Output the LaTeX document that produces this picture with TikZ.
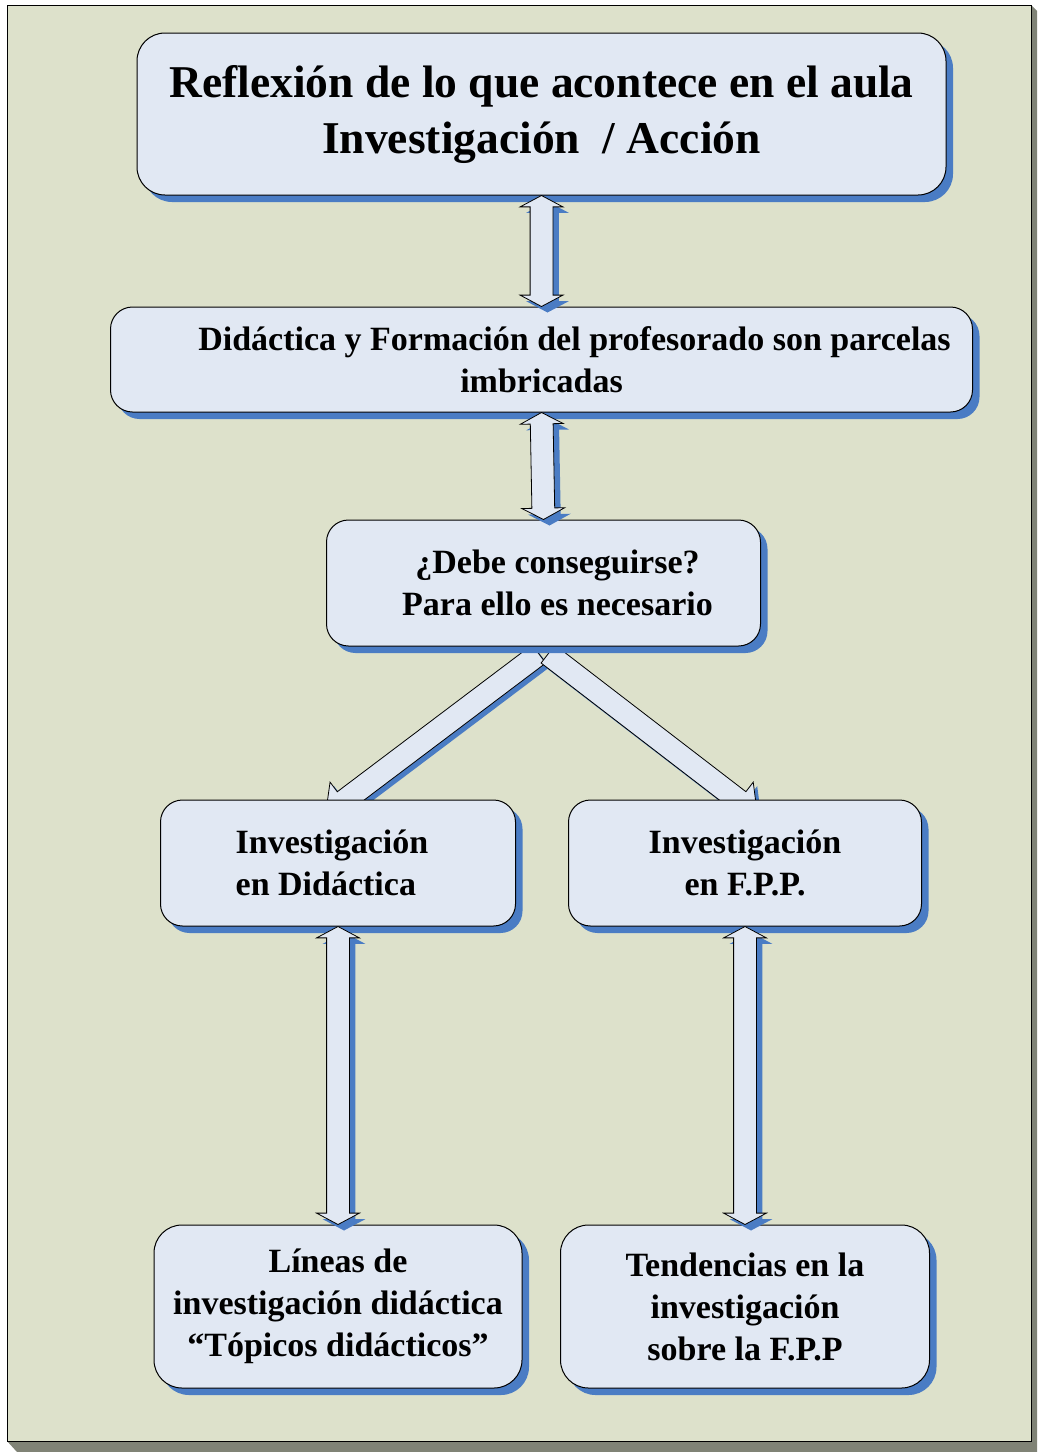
\documentclass[tikz,border=0pt]{standalone}
\usepackage{fontspec}
\setmainfont{Liberation Serif}
\usetikzlibrary{positioning, calc, shapes.arrows, shadows}

\definecolor{pagebg}{RGB}{221,225,203}
\definecolor{boxfill}{RGB}{225,232,243}
\definecolor{shadowblue}{RGB}{74,124,196}
\definecolor{pagegray}{RGB}{128,131,118}

\pgfdeclarelayer{page}
\pgfdeclarelayer{under}
\pgfsetlayers{page,under,main}

% block arrow node stretched between two points
\newcommand{\blockarrow}[3]{%
  \path let \p1=($(#3)-(#2)$), \n1={veclen(\x1,\y1)}, \n2={atan2(\y1,\x1)} in
    ($(#2)!0.5!(#3)$) node[#1, minimum height=\n1, rotate=\n2] {};}

\begin{document}
\begin{tikzpicture}[x=1pt,y=-1pt,node distance=100pt,on grid,
  blueshadow/.style={drop shadow={shadow xshift=7pt, shadow yshift=-7pt, fill=shadowblue, opacity=1}},
  box/.style={draw=black, line width=1pt, fill=boxfill, rounded corners=22pt, inner sep=0pt,
    align=center, font=\bfseries\fontsize{34}{42}\selectfont, blueshadow},
  dblarrow/.style={double arrow, draw=black, line width=0.8pt, fill=boxfill, inner xsep=0pt, inner ysep=11pt,
    minimum width=42pt, double arrow head extend=10pt, double arrow tip angle=124,
    drop shadow={shadow xshift=6pt, shadow yshift=-6pt, fill=shadowblue, opacity=1}},
  onearrow/.style={single arrow, draw=black, line width=0.8pt, fill=boxfill, inner xsep=0pt, inner ysep=11pt,
    minimum width=46pt, single arrow head extend=12pt,
    drop shadow={shadow xshift=4pt, shadow yshift=-4pt, fill=shadowblue, opacity=1}}]
\useasboundingbox (0,0) rectangle (1037,1452);

% page
\begin{pgfonlayer}{page}
  \fill[pagegray] (7,1441) -- (17,1452) -- (1037,1452) -- (1037,11) -- (1031,5) -- (1031,1441) -- cycle;
  \draw[black, line width=1pt, fill=pagebg] (7,5) rectangle (1031,1441);
\end{pgfonlayer}

  \node[box, minimum width=809pt, minimum height=162pt, rounded corners=28pt,
        font=\bfseries\fontsize{45.5}{56}\selectfont] (refl) at (541.5,114)
        {Reflexión de lo que acontece en el aula\\Investigación\ \ / Acción};
  \node[box, minimum width=862pt, minimum height=105pt] (didac) [below =245.5pt of refl]
        {\hspace*{66pt}Didáctica y Formación del profesorado son parcelas\\imbricadas};
  \node[box, minimum width=434pt, minimum height=126pt] (debe) [below =223.5pt of didac, xshift=2pt]
        {\hspace*{28pt}¿Debe conseguirse?\\\hspace*{28pt}Para ello es necesario};
  \node[box, minimum width=355pt, minimum height=126pt, align=left] (invdid) [below left =280pt and 205.5pt of debe]
        {Investigación\hspace*{12pt}\\en Didáctica};
  \node[box, minimum width=353pt, minimum height=126pt] (invfpp) [right =407pt of invdid]
        {Investigación\\en F.P.P.};
  \node[box, minimum width=368pt, minimum height=163pt, rounded corners=28pt] (lineas) [below =443.5pt of invdid]
        {Líneas de\\investigación didáctica\\“Tópicos didácticos”};
  \node[box, minimum width=369pt, minimum height=163pt, rounded corners=28pt] (tend) [below =443.5pt of invfpp]
        {Tendencias en la\\investigación\\sobre la F.P.P};

\coordinate (fork) at ($(debe.south)+(0,4)$);
\begin{pgfonlayer}{under}
  \blockarrow{onearrow}{fork}{$(invdid.north)+(-8,12)$}
  \blockarrow{onearrow}{fork}{$(invfpp.north)+(8,12)$}
\end{pgfonlayer}

\blockarrow{dblarrow}{refl.south}{didac.north}
\blockarrow{dblarrow}{didac.south}{debe.north}
\blockarrow{dblarrow}{invdid.south}{lineas.north}
\blockarrow{dblarrow}{invfpp.south}{tend.north}
\end{tikzpicture}
\end{document}
